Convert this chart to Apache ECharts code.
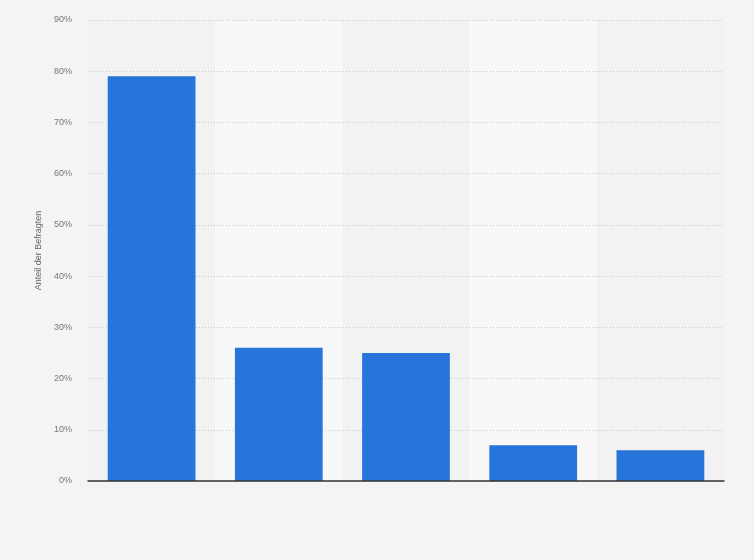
<!DOCTYPE html>
<html>
<head>
<meta charset="utf-8">
<script src="https://cdn.jsdelivr.net/npm/echarts@6/dist/echarts.min.js"></script>
<style>html,body{margin:0;padding:0;background:#f4f4f4;}#c{width:754px;height:560px;}</style>
</head>
<body>
<div id="c"></div>
<script>
var categories = ['A', 'B', 'C', 'D', 'E'];
var values = [79, 26, 25, 7, 6];
var yTicks = [0, 10, 20, 30, 40, 50, 60, 70, 80, 90];

var chart = echarts.init(document.getElementById('c'));
chart.setOption({
  backgroundColor: '#f4f4f4',
  animation: false,
  grid: { left: 88, right: 30, top: 20, bottom: 79 },
  xAxis: [{
    type: 'category',
    data: categories,
    z: 0,
    axisLabel: { show: false },
    axisTick: { show: false },
    axisLine: { show: false },
    splitArea: { show: true, areaStyle: { color: ['rgba(242,242,242,1)', 'rgba(248,248,248,1)'] } }
  }, {
    type: 'category',
    data: categories,
    position: 'bottom',
    z: 4,
    axisLabel: { show: false },
    axisTick: { show: false },
    axisLine: { show: true, onZero: false, lineStyle: { color: '#333', width: 1.5 } },
    splitArea: { show: false },
    splitLine: { show: false }
  }],
  yAxis: {
    type: 'value',
    z: 1,
    min: yTicks[0],
    max: yTicks[yTicks.length - 1],
    interval: 10,
    name: 'Anteil der Befragten',
    nameLocation: 'middle',
    nameGap: 45,
    nameTextStyle: { color: '#666', fontSize: 9, fontFamily: 'Arial, Liberation Sans, sans-serif' },
    axisLine: { show: false },
    axisTick: { show: false },
    axisLabel: { formatter: '{value}%', color: '#777', fontSize: 9, margin: 16, fontFamily: 'Arial, Liberation Sans, sans-serif' },
    splitLine: { show: true, lineStyle: { color: '#c8c8c8', type: [1, 2], width: 1 } }
  },
  series: [{
    type: 'bar',
    z: 3,
    xAxisIndex: 0,
    data: values,
    barCategoryGap: '31%',
    itemStyle: { color: '#2775db' }
  }]
});
</script>
</body>
</html>
